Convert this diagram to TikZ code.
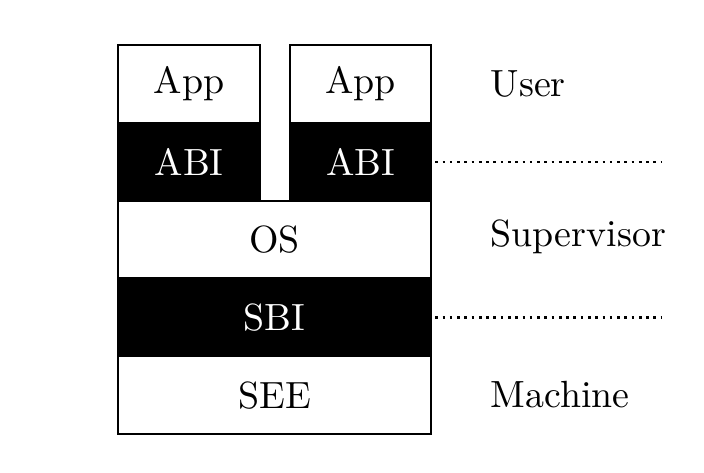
\documentclass[tikz,border=0pt]{standalone}
\begin{document}
\def\u{0.264pt}
\begin{tikzpicture}[x=0.264pt,y=-0.264pt,
  layer/.style={draw=black,line width=0.6pt,rectangle,inner sep=0pt,anchor=north west},
  white layer/.style={layer,fill=white,text=black},
  black layer/.style={layer,fill=black,text=white},
  lvl/.style={anchor=base west,inner sep=0pt},
  sep/.style={line width=0.7pt,dash pattern=on 0.7pt off 1.22pt}]
\useasboundingbox (0,0) rectangle (704,473);
% rows: 44, 121.8, 199.6, 277.4, 355.2, 433
\node[white layer,minimum width=142*\u,minimum height=77.8*\u] (app1) at (117,44) {App};
\node[black layer,minimum width=142*\u,minimum height=77.8*\u] (abi1) at (117,121.8) {ABI};
\node[white layer,minimum width=141*\u,minimum height=77.8*\u] (app2) at (289,44) {App};
\node[black layer,minimum width=141*\u,minimum height=77.8*\u] (abi2) at (289,121.8) {ABI};
\node[white layer,minimum width=313*\u,minimum height=77.8*\u] (os) at (117,199.6) {OS};
\node[black layer,minimum width=313*\u,minimum height=77.8*\u] (sbi) at (117,277.4) {SBI};
\node[white layer,minimum width=313*\u,minimum height=77.8*\u] (see) at (117,355.2) {SEE};
\coordinate (end) at (662,0);
\draw[sep] ([xshift=0.8pt]abi2.east) -- (abi2.east -| end);
\draw[sep] ([xshift=0.8pt]sbi.east) -- (sbi.east -| end);
\node[lvl] (user) at (490,96.7) {User};
\node[lvl] (sup) at (490,246.7) {Supervisor};
\node[lvl] (mach) at (490,407.3) {Machine};
\end{tikzpicture}
\end{document}
